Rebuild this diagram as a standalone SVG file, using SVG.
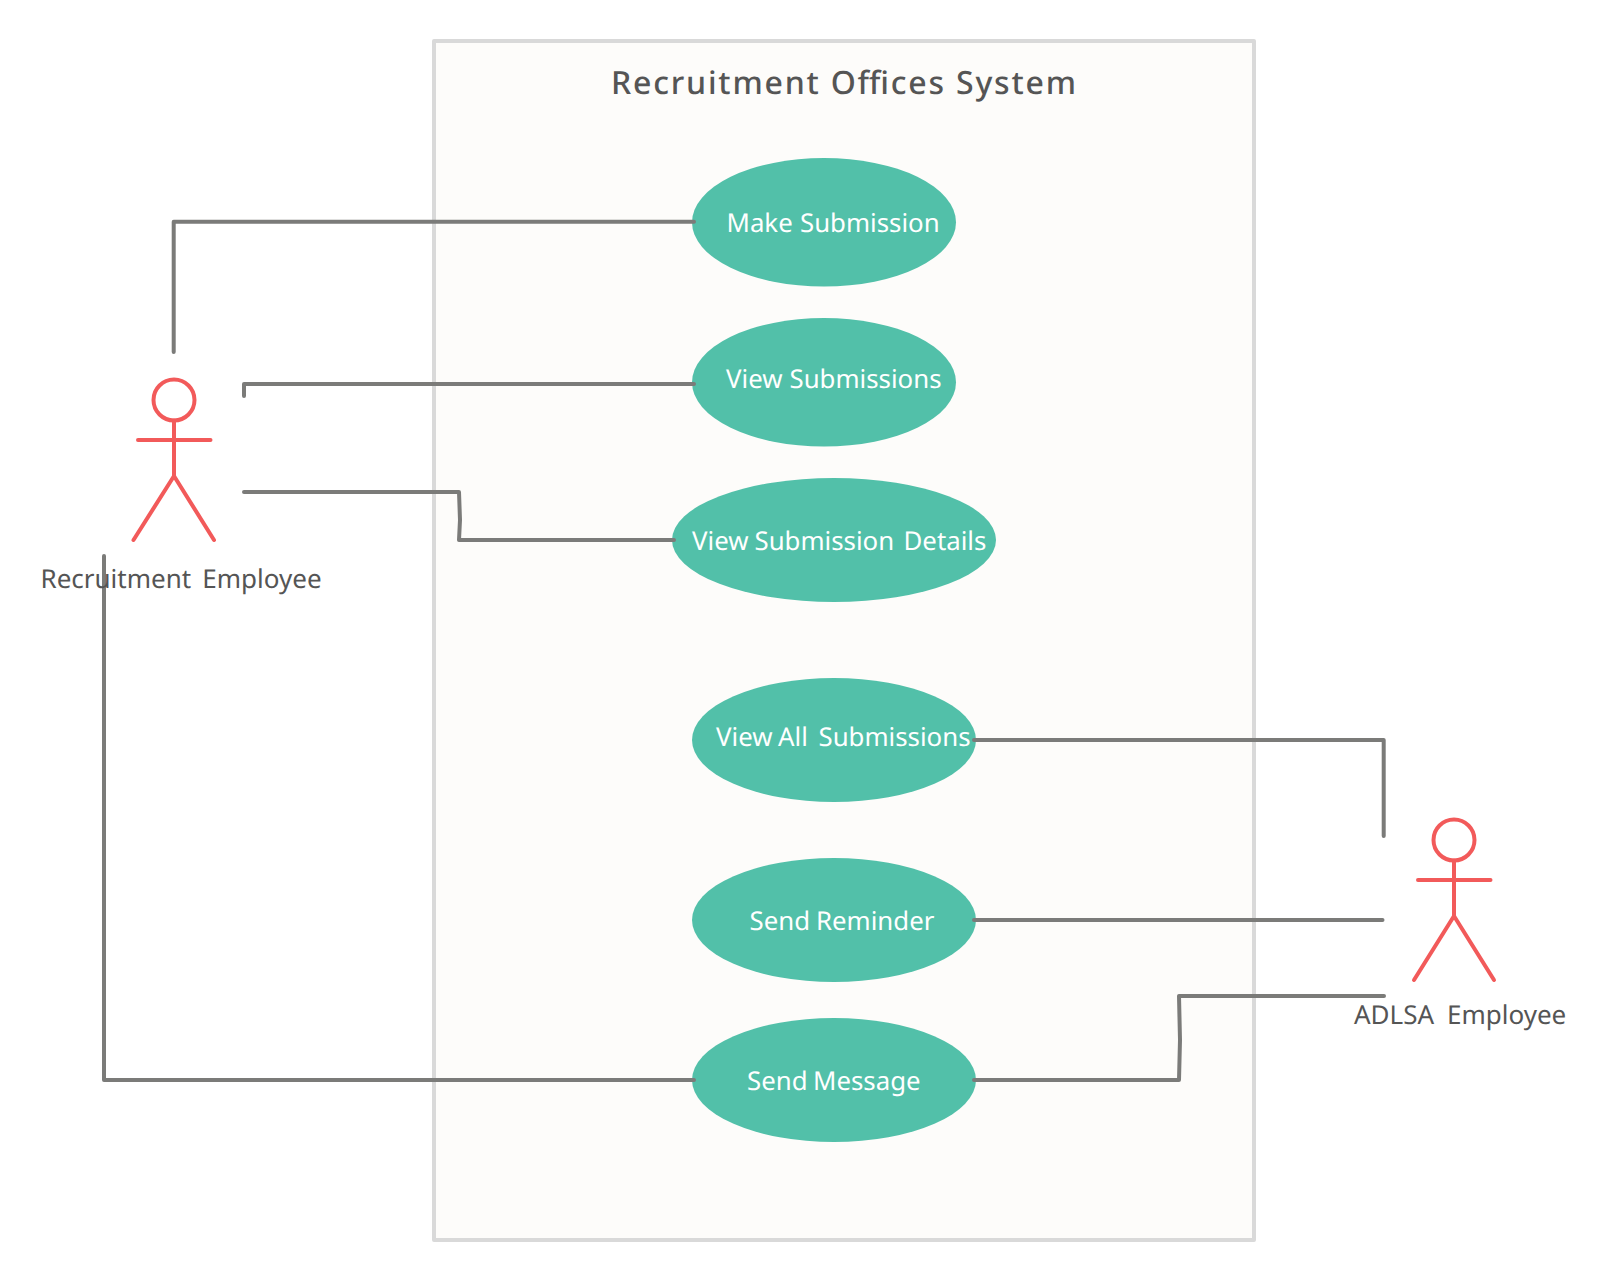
<svg xmlns="http://www.w3.org/2000/svg" width="1598" height="1280" viewBox="0 0 1598 1280">
<style>
text{font-family:"Noto Sans","Open Sans","Liberation Sans",sans-serif;text-rendering:geometricPrecision}
.uc ellipse{fill:#52c0a9}
.uc text{fill:#fff;font-size:25.800px}
.actor circle,.actor path{fill:none;stroke:#f25a5a;stroke-width:4;stroke-linecap:round;stroke-linejoin:round}
.actor text{fill:#555;font-size:26px}
#connectors path{fill:none;stroke:#7b7b79;stroke-width:4;stroke-linecap:round;stroke-linejoin:round}
</style>
<rect width="1598" height="1280" fill="#fff"/>
<g id="system">
<rect x="434" y="41" width="820" height="1199" fill="#fdfcfa" stroke="#d9d9d9" stroke-width="4" stroke-linejoin="round"/>
<text x="611" y="94" font-size="32" font-weight="500" fill="#555" textLength="465" lengthAdjust="spacing">Recruitment Offices System</text>
</g>
<g id="uc-make" class="uc"><ellipse cx="824" cy="222.3" rx="132" ry="64.3"/><text y="232"><tspan x="726.500">Make </tspan><tspan x="800">Submission</tspan></text></g>
<g id="uc-view" class="uc"><ellipse cx="824" cy="382.3" rx="132" ry="64.3"/><text y="388"><tspan x="726">View </tspan><tspan x="789.500">Submissions</tspan></text></g>
<g id="uc-details" class="uc"><ellipse cx="834" cy="540" rx="162" ry="62"/><text y="550"><tspan x="692">View </tspan><tspan x="754.500">Submission </tspan><tspan x="903.500">Details</tspan></text></g>
<g id="uc-all" class="uc"><ellipse cx="834" cy="740" rx="142" ry="62"/><text y="746"><tspan x="716">View </tspan><tspan x="778">All </tspan><tspan x="818.500">Submissions</tspan></text></g>
<g id="uc-reminder" class="uc"><ellipse cx="834" cy="920" rx="142" ry="62"/><text y="930"><tspan x="749.500">Send </tspan><tspan x="816">Reminder</tspan></text></g>
<g id="uc-message" class="uc"><ellipse cx="834" cy="1080" rx="142" ry="62"/><text y="1090"><tspan x="747">Send </tspan><tspan x="813">Message</tspan></text></g>
<g id="connectors">
<path d="M173.700 352V221.700H694"/>
<path d="M244 396V384H694"/>
<path d="M244 492H459L460 520 459 540H674"/>
<path d="M104 556V1080H694"/>
<path d="M974 740H1383.700V836"/>
<path d="M974 920H1382.500"/>
<path d="M974 1080H1179L1180 1040 1179 996H1384"/>
</g>
<g id="actor-recruitment" class="actor">
<circle cx="174" cy="400" r="20.500"/>
<path d="M174 420.500V476M138 440H210.500M133.500 540 174 476 214 540"/>
<text y="588"><tspan x="40.500">Recruitment </tspan><tspan x="202.300">Employee</tspan></text>
</g>
<g id="actor-adlsa" class="actor">
<circle cx="1454" cy="840" r="20.500"/>
<path d="M1454 860.500V916M1418 880H1490.500M1414 980 1454 916 1494 980"/>
<text y="1024"><tspan x="1354">ADLSA </tspan><tspan x="1447">Employee</tspan></text>
</g>
</svg>
